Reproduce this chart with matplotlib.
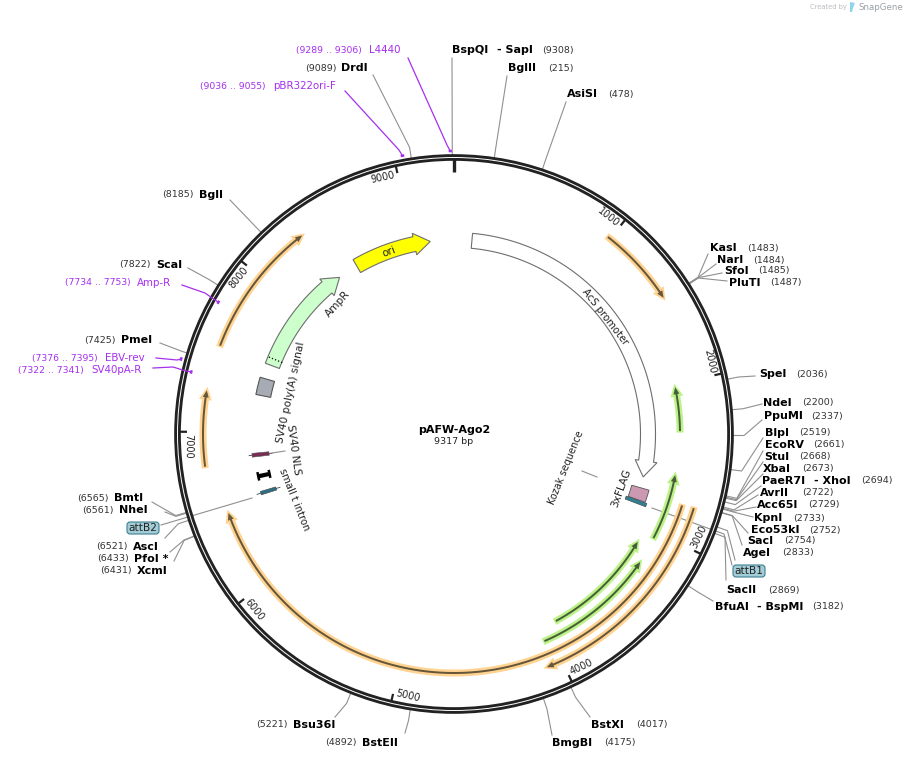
"""Plasmid map of pAFW-Ago2: backbone ring, features, primers and enzyme sites."""

import matplotlib

matplotlib.use("Agg")
import matplotlib.pyplot as plt
import numpy as np
from matplotlib.patches import Circle, FancyBboxPatch, Polygon

PLASMID_NAME = "pAFW-Ago2"
PLASMID_BP = 9317
TICK_BP = [1000, 2000, 3000, 4000, 5000, 6000, 7000, 8000, 9000]

# enzyme sites
SITE_NAMES = ["BspQI", "BglII", "AsiSI", "KasI", "NarI", "SfoI", "PluTI", "SpeI", "NdeI", "PpuMI",
              "BlpI", "EcoRV", "StuI", "XbaI", "PaeR7I", "AvrII", "Acc65I", "KpnI", "Eco53kI",
              "SacI", "AgeI", "SacII", "BfuAI", "BstXI", "BmgBI", "BstEII", "Bsu36I", "XcmI",
              "PfoI *", "AscI", "NheI", "BmtI", "PmeI", "ScaI", "BglI", "DrdI"]
SITE_BP = [9308, 215, 478, 1483, 1484, 1485, 1487, 2036, 2200, 2337,
           2519, 2661, 2668, 2673, 2694, 2722, 2729, 2733, 2752,
           2754, 2833, 2869, 3182, 4017, 4175, 4892, 5221, 6431,
           6433, 6521, 6561, 6565, 7425, 7822, 8185, 9089]
SECOND_NAMES = {"BspQI": "SapI", "PaeR7I": "XhoI", "BfuAI": "BspMI"}

# primers
PRIMER_NAMES = ["L4440", "pBR322ori-F", "Amp-R", "EBV-rev", "SV40pA-R"]
PRIMER_START = [9289, 9036, 7734, 7376, 7322]
PRIMER_END = [9306, 9055, 7753, 7395, 7341]

# thin highlighted arcs, (tail, head)
ORANGE_ARCS = [(983, 1475), (2774, 4097), (2780, 6488), (6794, 7247), (7523, 8349)]
GREEN_ARCS = [(2310, 2020), (3043, 2601), (3919, 3116), (4048, 3222)]

# wide feature arrows, (tail, head)
AMPR_BP = (7520, 8381)
ORI_BP = (8539, 9135)
ACS_BP = (137, 2660)

# layout
CX, CY = 454.0, 434.0
# name x, number x, y, leader end x, leader end y
SITE_LAYOUT = {
    "BspQI": (452, 542, 50, 452, 58), "BglII": (508, 548, 68, 507, 76), "AsiSI": (567, 608, 94, 566, 102),
    "KasI": (710, 747, 248, 708, 254), "NarI": (717, 753, 260, 716, 264), "SfoI": (724, 758, 271, 722, 273),
    "PluTI": (729, 770, 283, 727, 281), "SpeI": (759, 796, 374, 755, 376), "NdeI": (763, 802, 403, 762, 404),
    "PpuMI": (764, 811, 416, 762, 420), "BlpI": (765, 799, 433, 763, 438), "EcoRV": (765, 813, 445, 763, 451),
    "StuI": (764, 799, 457, 763, 462), "XbaI": (763, 802, 469, 763, 474), "PaeR7I": (762, 861, 481, 761, 486),
    "AvrII": (760, 802, 493, 758, 495), "Acc65I": (757, 808, 505, 756, 507), "KpnI": (754, 793, 518, 753, 517),
    "Eco53kI": (751, 809, 530, 748, 533), "SacI": (747, 784, 541, 742, 545), "AgeI": (743, 782, 553, 735, 560),
    "SacII": (726, 768, 590, 726, 580), "BfuAI": (715, 812, 607, 713, 601), "BstXI": (591, 636, 725, 590, 717),
    "BmgBI": (552, 604, 743, 552, 735), "BstEII": (362, 325, 743, 405, 733), "Bsu36I": (293, 256, 725, 335, 717),
    "XcmI": (137, 100, 571, 174, 561), "PfoI *": (134, 97, 559, 170, 552), "AscI": (133, 96, 547, 165, 538),
    "NheI": (119, 82, 510, 165, 512), "BmtI": (114, 77, 498, 152, 502), "PmeI": (121, 84, 340, 160, 343),
    "ScaI": (156, 119, 265, 188, 268), "BglI": (199, 162, 195, 230, 200), "DrdI": (341, 305, 68, 373, 75),
}
SECOND_X = {"BspQI": 497, "PaeR7I": 814, "BfuAI": 757}
# name x, number x, y, leader points
PRIMER_LAYOUT = {
    "L4440": (369, 296, 50, [(408, 58), (447, 145)]),
    "pBR322ori-F": (273, 200, 86, [(345, 91), (399, 150)]),
    "Amp-R": (137, 65, 283, [(182, 285), (205, 293)]),
    "EBV-rev": (105, 32, 358, [(156, 358), (177, 360)]),
    "SV40pA-R": (91, 18, 370, [(153, 368), (173, 367), (186, 371)]),
}

BLACK = "#222222"
GREY = "#909090"
PURPLE = "#a62ff0"
ORANGE = "#ffd391"
ORANGE_DARK = "#66563a"
GREEN = "#bdf28a"
GREEN_DARK = "#465f36"
FS_NAME = 8.0
FS_NUM = 6.8
FS_FEAT = 7.6


def pt(bp, r):
    t = 2 * np.pi * np.asarray(bp, dtype=float) / PLASMID_BP
    return CX + r * np.sin(t), CY - r * np.cos(t)


def theta_deg(bp):
    return 360.0 * bp / PLASMID_BP


def arrow_poly(tail, head, r, w, head_w, head_px):
    """Polygon of a curved arrow going from bp tail to bp head at radius r."""
    sign = 1 if head > tail else -1
    head_bp = head_px / (2 * np.pi * r) * PLASMID_BP
    base = head - sign * head_bp
    arc = np.linspace(tail, base, 120)
    xo, yo = pt(arc, r + w / 2)
    xi, yi = pt(arc[::-1], r - w / 2)
    hox, hoy = pt(base, r + head_w / 2)
    hix, hiy = pt(base, r - head_w / 2)
    tx, ty = pt(head, r)
    xs = np.concatenate([xo, [hox, tx, hix], xi])
    ys = np.concatenate([yo, [hoy, ty, hiy], yi])
    return np.column_stack([xs, ys])


def band_poly(bp0, bp1, r0, r1):
    arc = np.linspace(bp0, bp1, 12)
    xo, yo = pt(arc, r1)
    xi, yi = pt(arc[::-1], r0)
    return np.column_stack([np.concatenate([xo, xi]), np.concatenate([yo, yi])])


def draw_arc_arrows(ax, arcs, r_list, halo, dark):
    for (tail, head), r in zip(arcs, r_list):
        # the halo runs a little past both ends of the dark arrow
        sign = 1 if head > tail else -1
        px = PLASMID_BP / (2 * np.pi * r)
        ax.add_patch(Polygon(arrow_poly(tail - sign * 1.5 * px, head + sign * 3.5 * px, r, 7, 13, 13),
                             fc=halo, ec="none", zorder=2))
        ax.add_patch(Polygon(arrow_poly(tail, head, r, 2.0, 6, 7), fc=dark, ec="none", zorder=3))


def draw_feature(ax, tail, head, fc):
    poly = arrow_poly(tail, head, 194, 15, 22, 16)
    ax.add_patch(Polygon(poly, fc=fc, ec="#6e6e6e", lw=0.8, zorder=3))


def site_label(ax, name, bp):
    name_x, num_x, y, end_x, end_y = SITE_LAYOUT[name]
    x0, y0 = pt(bp, 278)
    x1, y1 = pt(bp, 290)
    if name == "PmeI":
        x1, y1 = pt(bp, 284)
    ax.plot([x0, x1, end_x], [y0, y1, end_y], color=GREY, lw=0.8, zorder=1)
    ax.text(name_x, y, name, fontsize=FS_NAME, fontweight="bold", color="black", va="center", ha="left")
    ax.text(num_x, y, f"({bp})", fontsize=FS_NUM, color="#333333", va="center", ha="left")
    if name in SECOND_NAMES:
        ax.text(SECOND_X[name], y, "- " + SECOND_NAMES[name], fontsize=FS_NAME, fontweight="bold",
                color="black", va="center", ha="left")


def main():
    fig = plt.figure(figsize=(9.07, 7.59), dpi=100)
    ax = fig.add_axes([0, 0, 1, 1])
    ax.set_xlim(0, 907)
    ax.set_ylim(759, 0)
    ax.axis("off")

    # backbone
    ax.add_patch(Circle((CX, CY), 276.5, fc="none", ec=BLACK, lw=4.8, zorder=4))
    ax.add_patch(Circle((CX, CY), 276.5, fc="none", ec="white", lw=0.7, zorder=5))
    for bp in TICK_BP:
        x0, y0 = pt(bp, 275)
        x1, y1 = pt(bp, 267)
        ax.plot([x0, x1], [y0, y1], color=BLACK, lw=1.6, solid_capstyle="butt", zorder=4)
        t = theta_deg(bp)
        rot = -t if t < 90 or t > 271 else 180 - t
        xt, yt = pt(bp - 3.2 / 360 * PLASMID_BP, 266)
        ax.text(xt, yt, str(bp), fontsize=7.0, rotation=rot, rotation_mode="anchor",
                ha="center", va="center", color="#222222")
    ax.plot([CX, CX], [CY - 277, CY - 262], color=BLACK, lw=2.4, solid_capstyle="butt", zorder=4)

    # thin arcs
    draw_arc_arrows(ax, ORANGE_ARCS, [250, 251, 239, 251, 250], ORANGE, ORANGE_DARK)
    draw_arc_arrows(ax, GREEN_ARCS, [226, 225, 213, 226], GREEN, GREEN_DARK)

    # wide features
    draw_feature(ax, *ACS_BP, "white")
    draw_feature(ax, *AMPR_BP, "#ccffcc")
    draw_feature(ax, *ORI_BP, "#ffff00")
    xa, ya = pt(7572, 186)
    xb, yb = pt(7572, 201)
    ax.plot([xa, xb], [ya, yb], color="black", lw=0.9, ls=":", zorder=4)

    # small features
    ax.add_patch(Polygon(band_poly(7280, 7410, 187, 202), fc="#a7abb3", ec="#555555", lw=0.8, zorder=3))
    ax.add_patch(Polygon(band_poly(6818, 6846, 186, 203), fc="#7a2e55", ec="#555555", lw=0.4, zorder=3))
    x0, y0 = pt(6832, 183)
    x1, y1 = pt(6832, 206)
    ax.plot([x0, x1], [y0, y1], color="#444444", lw=0.6, zorder=2)
    ax.add_patch(Polygon(band_poly(6656, 6688, 188, 201), fc="black", ec="none", zorder=3))
    ax.add_patch(Polygon(band_poly(6640, 6704, 199, 201.5), fc="black", ec="none", zorder=3))
    ax.add_patch(Polygon(band_poly(6640, 6704, 187.5, 190), fc="black", ec="none", zorder=3))
    ax.add_patch(Polygon(band_poly(6534, 6560, 186, 202), fc="#2f6f85", ec="#444444", lw=0.4, zorder=3))
    x0, y0 = pt(6547, 182)
    x1, y1 = pt(6547, 206)
    ax.plot([x0, x1], [y0, y1], color="#444444", lw=0.6, zorder=2)
    ax.add_patch(Polygon(band_poly(2745, 2838, 185, 203), fc="#cc99b2", ec="#555555", lw=0.6, zorder=3))
    ax.add_patch(Polygon(band_poly(2842, 2868, 183, 205), fc="#2f7f95", ec="#444444", lw=0.4, zorder=3))

    # feature leaders
    ax.plot([582, 597], [471, 477], color=GREY, lw=0.8, zorder=1)
    ax.plot([252, 161], [498, 525], color=GREY, lw=0.8, zorder=1)
    ax.plot([652, 724, 732], [508, 534, 565], color=GREY, lw=0.8, zorder=1)
    ax.plot([272, 285], [453, 451], color=GREY, lw=0.8, zorder=1)

    for name, bp in zip(SITE_NAMES, SITE_BP):
        site_label(ax, name, bp)

    # primers
    radius = {"L4440": 283, "pBR322ori-F": 283, "EBV-rev": 283, "Amp-R": 270, "SV40pA-R": 270}
    for name, s, e in zip(PRIMER_NAMES, PRIMER_START, PRIMER_END):
        name_x, num_x, y, pts = PRIMER_LAYOUT[name]
        r = radius[name]
        xm, ym = pt((s + e) / 2, r)
        line_x = [p[0] for p in pts] + [xm]
        line_y = [p[1] for p in pts] + [ym]
        ax.plot(line_x, line_y, color=PURPLE, lw=0.9, zorder=6)
        arc = np.linspace(s, e, 6)
        xs, ys = pt(arc, r)
        ax.plot(xs, ys, color=PURPLE, lw=1.8, solid_capstyle="butt", zorder=6)
        ax.text(name_x, y, name, fontsize=7.4, color=PURPLE, va="center", ha="left")
        ax.text(num_x, y, f"({s} .. {e})", fontsize=6.7, color=PURPLE, va="center", ha="left")

    # att badges
    for label, xc, yc in [("attB1", 749, 571), ("attB2", 143, 528)]:
        ax.add_patch(FancyBboxPatch((xc - 16, yc - 6), 32, 12, boxstyle="round,pad=0,rounding_size=3",
                                    fc="#a3cdd6", ec="#3d7f92", lw=0.8, zorder=6))
        ax.text(xc, yc, label, fontsize=FS_FEAT, color="#222222", ha="center", va="center", zorder=7)

    # inner labels
    for text, x, y, rot, size in [("AcS promoter", 605, 317, -52, 7.3), ("ori", 389, 252, 20, FS_FEAT),
                                  ("AmpR", 338, 304, 48, FS_FEAT), ("SV40 poly(A) signal", 291, 392, 78, FS_FEAT),
                                  ("SV40 NLS", 294, 450, -82, FS_FEAT), ("small t intron", 294, 500, -68, 7.2),
                                  ("Kozak sequence", 566, 468, 68, 7.0), ("3xFLAG", 621, 488, 70, FS_FEAT)]:
        ax.text(x, y, text, fontsize=size, rotation=rot, rotation_mode="anchor", ha="center", va="center",
                color="#222222", zorder=7)

    ax.text(CX, 430, PLASMID_NAME, fontsize=FS_NAME, fontweight="bold", ha="center", va="center")
    ax.text(CX, 442, f"{PLASMID_BP} bp", fontsize=FS_NUM, ha="center", va="center", color="#222222")

    # SnapGene stamp
    ax.text(810, 7, "Created by", fontsize=4.8, color="#b8bcc0", va="center", ha="left")
    ax.add_patch(Polygon([(850, 2), (855, 3), (853, 8), (852, 12), (850, 12)], fc="#8fd3ee", ec="none"))
    ax.text(858, 7, "SnapGene", fontsize=6.2, color="#9aa0a6", va="center", ha="left")

    fig.savefig("out.png", dpi=100)
    plt.close(fig)


if __name__ == "__main__":
    main()
